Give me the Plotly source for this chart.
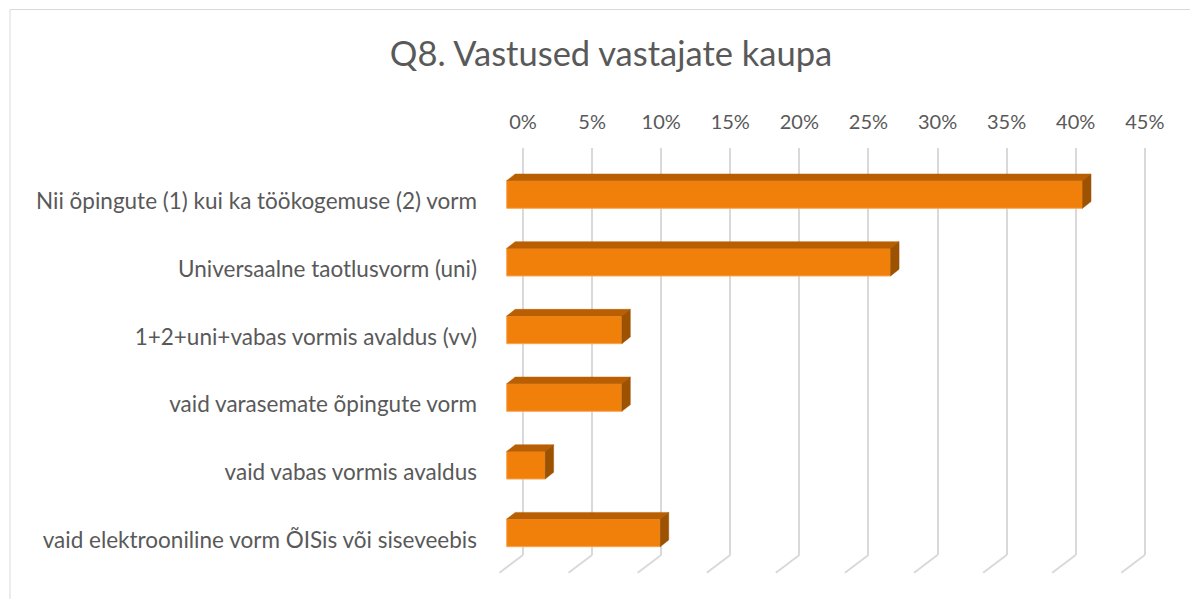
import plotly.graph_objects as go

# ---- data ----
categories = [
    "Nii õpingute (1) kui ka töökogemuse (2) vorm",
    "Universaalne taotlusvorm (uni)",
    "1+2+uni+vabas vormis avaldus (vv)",
    "vaid varasemate õpingute vorm",
    "vaid vabas vormis avaldus",
    "vaid elektrooniline vorm ÕISis või siseveebis",
]
values = [41.67, 27.78, 8.33, 8.33, 2.78, 11.11]   # percent
tick_values = [0, 5, 10, 15, 20, 25, 30, 35, 40, 45]
tick_labels = ["0%", "5%", "10%", "15%", "20%", "25%", "30%", "35%", "40%", "45%"]
title_text = "Q8. Vastused vastajate kaupa"

# ---- style / geometry (screen pixels; page body has an 8px margin) ----
OFF = 8
W, H = 1198 - OFF, 599 - OFF
L, R, T, B = 490 - OFF, 1180 - OFF, 148 - OFF, 555 - OFF   # plot area in figure pixels
px_per_pct = 69.09 / 5
front_zero_px = 506.7 - OFF
back_zero_px = 523.0 - OFF
row0_px = 194.5 - OFF
row_step = 67.68
label_shift_px = 7
bar_h_px = 27.6
depth_dx_px, depth_dy_px = 8.5, 6.7

FRONT = "#F0800A"
TOP = "#B95F02"
SIDE = "#9C5200"
GRID = "#D9D9D9"
TXT = "#595959"
FONT = "Lato"

xr_front = [(L - front_zero_px) / px_per_pct, (R - front_zero_px) / px_per_pct]
xr_back = [(L - back_zero_px) / px_per_pct, (R - back_zero_px) / px_per_pct]
yr = [(B - row0_px) / row_step, (T - row0_px) / row_step]
yr_lab = [(B - row0_px - label_shift_px) / row_step, (T - row0_px - label_shift_px) / row_step]

bw = bar_h_px / row_step
dx = depth_dx_px / px_per_pct
dy = depth_dy_px / row_step

pos = list(range(len(categories)))

fig = go.Figure()

# top faces and side faces of the 3D bars
tx, ty, sx, sy = [], [], [], []
for i, v in zip(pos, values):
    yt = i - bw / 2
    yb = i + bw / 2
    tx += [0, v, v + dx, dx, 0, None]
    ty += [yt, yt, yt - dy, yt - dy, yt, None]
    sx += [v, v + dx, v + dx, v, v, None]
    sy += [yt, yt - dy, yb - dy, yb, yt, None]

fig.add_trace(go.Scatter(x=tx, y=ty, mode="lines", fill="toself", fillcolor=TOP,
                         line=dict(color=TOP, width=0.5), hoverinfo="skip",
                         showlegend=False, xaxis="x", yaxis="y"))
fig.add_trace(go.Scatter(x=sx, y=sy, mode="lines", fill="toself", fillcolor=SIDE,
                         line=dict(color=SIDE, width=0.5), hoverinfo="skip",
                         showlegend=False, xaxis="x", yaxis="y"))

# front faces
fig.add_trace(go.Bar(x=values, y=pos, orientation="h", width=bw,
                     marker=dict(color=FRONT, line=dict(color="#F7A553", width=1)),
                     showlegend=False, xaxis="x", yaxis="y",
                     hovertemplate="%{x:.1f}%<extra></extra>"))

# invisible helpers so the back-wall axis and label axis render
fig.add_trace(go.Scatter(x=values, y=pos, mode="markers", marker=dict(opacity=0),
                         hoverinfo="skip", showlegend=False, xaxis="x2", yaxis="y"))
fig.add_trace(go.Scatter(x=values, y=pos, mode="markers", marker=dict(opacity=0),
                         hoverinfo="skip", showlegend=False, xaxis="x", yaxis="y2"))

# floor lines (perspective) below each gridline
floor_dx = 23.5 / px_per_pct
floor_dy = 17.7 / (B - T)
shapes = []
for t in tick_values:
    shapes.append(dict(type="line", xref="x2", yref="paper", x0=t, y0=0,
                       x1=t - floor_dx, y1=-floor_dy,
                       line=dict(color=GRID, width=2)))
# chart border
shapes.append(dict(type="rect", xref="paper", yref="paper",
                   x0=(10 - OFF - L) / (R - L), x1=(1215 - OFF - L) / (R - L),
                   y0=(B - (615 - OFF)) / (B - T), y1=(B - (9.5 - OFF)) / (B - T),
                   line=dict(color=GRID, width=1), fillcolor="rgba(0,0,0,0)", layer="below"))

fig.update_layout(
    width=W, height=H,
    margin=dict(l=L, r=W - R, t=T, b=H - B),
    paper_bgcolor="white", plot_bgcolor="rgba(0,0,0,0)",
    font=dict(family=FONT, color=TXT, size=20),
    title=dict(text=title_text, xref="container", yref="container",
               x=(611 - OFF) / W, y=1 - (54 - OFF) / H, xanchor="center", yanchor="middle",
               font=dict(family=FONT, size=34.5, color=TXT)),
    xaxis=dict(range=xr_front, showgrid=False, zeroline=False, showticklabels=False,
               showline=False, fixedrange=True),
    xaxis2=dict(range=xr_back, overlaying="x", side="top", tickvals=tick_values,
                ticktext=tick_labels, showgrid=True, gridcolor=GRID, gridwidth=2,
                zeroline=False, showline=False, ticks="", ticklabelstandoff=14,
                tickfont=dict(family=FONT, size=20, color=TXT), fixedrange=True),
    yaxis=dict(range=yr, showgrid=False, zeroline=False, showticklabels=False,
               showline=False, fixedrange=True),
    yaxis2=dict(range=yr_lab, overlaying="y", side="left", tickvals=pos,
                ticktext=categories, showgrid=False, zeroline=False, showline=False,
                ticks="", ticklabelstandoff=12,
                tickfont=dict(family=FONT, size=22.5, color=TXT), fixedrange=True),
    shapes=shapes,
)

fig.write_html("out.html")
